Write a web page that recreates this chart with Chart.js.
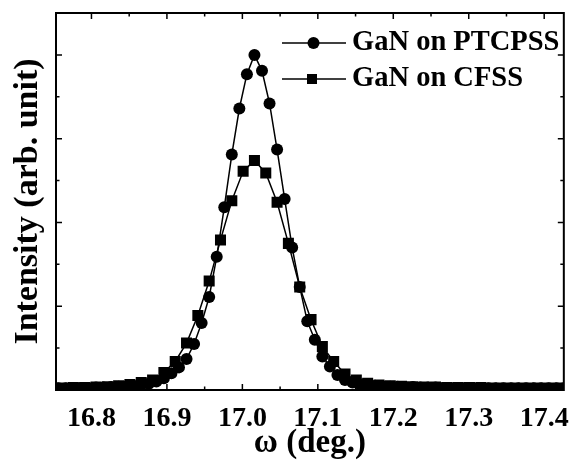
<!DOCTYPE html>
<html>
<head>
<meta charset="utf-8">
<script src="https://cdn.jsdelivr.net/npm/chart.js@4.4.1/dist/chart.umd.min.js"></script>
<style>
    html, body { margin: 0; padding: 0; background: #fff; }
    #wrap { width: 573px; height: 468px; }
</style>
</head>
<body>
<div id="wrap"><canvas id="rockingChart" width="573" height="468"></canvas></div>
<script>
// omega (deg.) and intensity
const ptcpssX = [16.746, 16.756, 16.766, 16.776, 16.786, 16.796, 16.806, 16.816, 16.826, 16.836,
    16.846, 16.856, 16.866, 16.876, 16.886, 16.896, 16.906, 16.916, 16.926, 16.936,
    16.946, 16.956, 16.966, 16.976, 16.986, 16.996, 17.006, 17.016, 17.026, 17.036,
    17.046, 17.056, 17.066, 17.076, 17.086, 17.096, 17.106, 17.116, 17.126, 17.136,
    17.146, 17.156, 17.166, 17.176, 17.186, 17.196, 17.206, 17.216, 17.226, 17.236,
    17.246, 17.256, 17.266, 17.276, 17.286, 17.296, 17.306, 17.316, 17.326, 17.336,
    17.346, 17.356, 17.366, 17.376, 17.386, 17.396, 17.406, 17.416, 17.426, 17.436];
const ptcpssY = [0.02, 0.02, 0.02, 0.02, 0.025, 0.025, 0.03, 0.03, 0.035, 0.04,
    0.045, 0.05, 0.06, 0.075, 0.10, 0.14, 0.20, 0.27, 0.37, 0.55,
    0.80, 1.11, 1.59, 2.18, 2.81, 3.36, 3.77, 4.00, 3.81, 3.42,
    2.87, 2.28, 1.70, 1.23, 0.82, 0.60, 0.40, 0.28, 0.18, 0.12,
    0.09, 0.07, 0.06, 0.05, 0.045, 0.04, 0.04, 0.035, 0.035, 0.03,
    0.03, 0.03, 0.025, 0.025, 0.025, 0.025, 0.02, 0.02, 0.02, 0.02,
    0.02, 0.02, 0.02, 0.02, 0.02, 0.02, 0.02, 0.02, 0.02, 0.02];

const cfssX = [16.746, 16.761, 16.776, 16.791, 16.806, 16.821, 16.836, 16.851, 16.866, 16.881,
    16.896, 16.911, 16.926, 16.941, 16.956, 16.971, 16.986, 17.001, 17.016, 17.031,
    17.046, 17.061, 17.076, 17.091, 17.106, 17.121, 17.136, 17.151, 17.166, 17.181,
    17.196, 17.211, 17.226, 17.241, 17.256, 17.271, 17.286, 17.301, 17.316, 17.331,
    17.346, 17.361, 17.376, 17.391, 17.406, 17.421, 17.436];
const cfssY = [0.025, 0.025, 0.03, 0.03, 0.035, 0.04, 0.05, 0.065, 0.09, 0.12,
    0.21, 0.34, 0.56, 0.89, 1.30, 1.79, 2.26, 2.61, 2.74, 2.59,
    2.24, 1.75, 1.23, 0.84, 0.52, 0.34, 0.19, 0.12, 0.08, 0.06,
    0.05, 0.045, 0.04, 0.035, 0.035, 0.03, 0.03, 0.03, 0.03, 0.025,
    0.025, 0.025, 0.025, 0.025, 0.025, 0.025, 0.025];

const seriesNames = ['GaN on PTCPSS', 'GaN on CFSS'];
const xTicks = [16.8, 16.9, 17.0, 17.1, 17.2, 17.3, 17.4];
const xMinorTicks = [16.85, 16.95, 17.05, 17.15, 17.25, 17.35];
const yTicks = [1, 2, 3, 4];
const yMinorTicks = [0.5, 1.5, 2.5, 3.5];

const FONT = '"Liberation Serif", "Times New Roman", serif';

// frame + inward ticks on all four sides, minor ticks included
const framePlugin = {
    id: 'frame',
    afterDatasetsDraw(chart) {
        const { ctx, chartArea: a, scales: { x, y } } = chart;
        ctx.save();
        ctx.strokeStyle = '#000';
        ctx.lineWidth = 1.5;
        ctx.beginPath();
        xTicks.forEach(v => {
            const px = x.getPixelForValue(v);
            ctx.moveTo(px, a.bottom); ctx.lineTo(px, a.bottom - 6);
            ctx.moveTo(px, a.top); ctx.lineTo(px, a.top + 6);
        });
        xMinorTicks.forEach(v => {
            const px = x.getPixelForValue(v);
            ctx.moveTo(px, a.bottom); ctx.lineTo(px, a.bottom - 3.5);
            ctx.moveTo(px, a.top); ctx.lineTo(px, a.top + 3.5);
        });
        yTicks.forEach(v => {
            const py = y.getPixelForValue(v);
            ctx.moveTo(a.left, py); ctx.lineTo(a.left + 6, py);
            ctx.moveTo(a.right, py); ctx.lineTo(a.right - 6, py);
        });
        yMinorTicks.forEach(v => {
            const py = y.getPixelForValue(v);
            ctx.moveTo(a.left, py); ctx.lineTo(a.left + 3.5, py);
            ctx.moveTo(a.right, py); ctx.lineTo(a.right - 3.5, py);
        });
        ctx.stroke();
        ctx.lineWidth = 2;
        ctx.strokeRect(a.left, a.top, a.right - a.left, a.bottom - a.top);
        ctx.restore();
    }
};

// legend: line through the marker, like the original plot
const legendPlugin = {
    id: 'lineLegend',
    afterDraw(chart) {
        const { ctx } = chart;
        const rows = [43, 79];
        ctx.save();
        ctx.font = 'bold 28.5px ' + FONT;
        ctx.textBaseline = 'middle';
        ctx.fillStyle = '#000';
        ctx.strokeStyle = '#000';
        rows.forEach((ry, i) => {
            ctx.lineWidth = 1.5;
            ctx.beginPath();
            ctx.moveTo(282, ry); ctx.lineTo(346, ry);
            ctx.stroke();
            if (i === 0) {
                ctx.beginPath();
                ctx.arc(313.5, ry, 6, 0, Math.PI * 2);
                ctx.fill();
            } else {
                ctx.fillRect(307, ry - 5, 10, 10);
            }
            ctx.fillText(seriesNames[i], 352, ry);
        });
        ctx.restore();
    }
};

const ctx = document.getElementById('rockingChart').getContext('2d');
new Chart(ctx, {
    type: 'line',
    data: {
        datasets: [
            {
                label: seriesNames[0],
                data: ptcpssX.map((v, i) => ({ x: v, y: ptcpssY[i] })),
                borderColor: '#000',
                backgroundColor: '#000',
                borderWidth: 1.5,
                pointStyle: 'circle',
                pointRadius: 6,
                pointBorderWidth: 0,
                tension: 0,
                clip: 0
            },
            {
                label: seriesNames[1],
                data: cfssX.map((v, i) => ({ x: v, y: cfssY[i] })),
                borderColor: '#000',
                backgroundColor: '#000',
                borderWidth: 1.5,
                pointStyle: 'rect',
                pointRadius: 7.8,
                pointBorderWidth: 0,
                tension: 0,
                clip: 0
            }
        ]
    },
    options: {
        responsive: false,
        animation: false,
        layout: { padding: { top: 13, right: 5, left: 0, bottom: 0 } },
        plugins: {
            legend: { display: false },
            tooltip: { enabled: false }
        },
        scales: {
            x: {
                type: 'linear',
                min: 16.753,
                max: 17.426,
                afterBuildTicks: (scale) => { scale.ticks = xTicks.map(v => ({ value: v })); },
                afterFit: (scale) => { scale.height = 78; },
                grid: { display: false },
                border: { display: false },
                ticks: {
                    color: '#000',
                    padding: 4,
                    maxRotation: 0,
                    autoSkip: false,
                    font: { family: FONT, size: 28, weight: 'bold' },
                    callback: (v) => v.toFixed(1)
                },
                title: {
                    display: true,
                    text: 'ω (deg.)',
                    color: '#000',
                    padding: { top: 0, bottom: 5 },
                    font: { family: FONT, size: 33, weight: 'bold' }
                }
            },
            y: {
                type: 'linear',
                min: 0,
                max: 4.5,
                afterFit: (scale) => { scale.width = 56; },
                grid: { display: false },
                border: { display: false },
                ticks: { display: false },
                title: {
                    display: true,
                    text: 'Intensity (arb. unit)',
                    color: '#000',
                    padding: { top: 8, bottom: 0 },
                    font: { family: FONT, size: 34, weight: 'bold' }
                }
            }
        }
    },
    plugins: [framePlugin, legendPlugin]
});
</script>
</body>
</html>
